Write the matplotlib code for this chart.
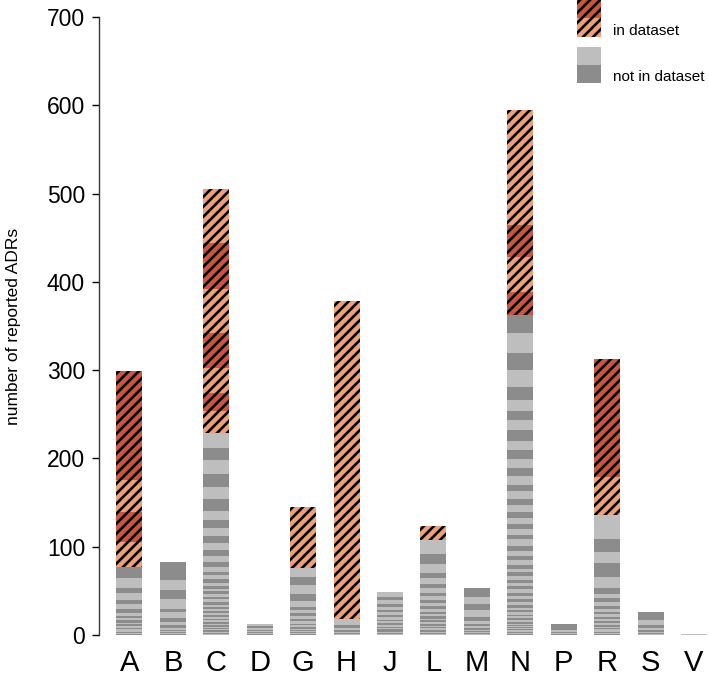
import numpy as np
import matplotlib
matplotlib.use("Agg")
import matplotlib.pyplot as plt
from matplotlib.patches import Rectangle

# dpi 90 gives hatch spacing close to the reference; sizes scaled to match
DPI = 90
S = 100 / DPI

plt.rcParams["font.family"] = ["Liberation Sans", "DejaVu Sans"]
plt.rcParams["hatch.linewidth"] = 1.9 * S

# =========================
# DATA (segments listed bottom -> top)
# =========================
categories = ["A", "B", "C", "D", "G", "H", "J", "L", "M", "N", "P", "R", "S", "V"]

not_in_dataset = {
    "A": [1, 1, 1, 1, 1, 1.5, 1.5, 2, 2, 2, 2.5, 2.5, 3, 3, 4.5, 5.5, 5, 7.5, 5.5, 12, 12.5],
    "B": [1, 1, 1, 1.5, 1.5, 2, 3, 4, 4, 6.7, 4.3, 10.5, 10.5, 11.4, 20.8],
    "C": [1, 1, 1, 1, 1, 1, 1, 1, 1.5, 1.5, 1.5, 2, 2, 2, 2, 2, 2, 2.5, 2.5, 2.5, 2.5,
          3, 3, 3, 3, 3, 3, 3, 3.8, 3.6, 5, 3.9, 5.6, 5.7, 6.5, 6.8, 8.3, 7.6, 8.6,
          8.8, 11.2, 13, 14.3, 14.4, 15.3, 14, 17],
    "D": [1, 1, 1, 1.5, 1.5, 2, 2, 3],
    "G": [1, 1, 1, 1, 1.5, 1.5, 2, 2, 2, 2.5, 3, 3, 3, 3.5, 4, 7, 8, 9.7, 9.3, 9.7],
    "H": [1, 1, 1.5, 2, 2.5, 3, 6.8],
    "J": [1, 1, 1, 1, 1, 1.5, 1.5, 1.5, 2, 2, 2, 2, 2.5, 2.5, 3, 3, 3.5, 3.5, 4, 4, 5],
    "L": [1, 1, 1, 1, 1, 1, 1.5, 1.5, 1.5, 2, 2, 2, 2, 2.5, 2.5, 3, 3, 3, 3.5, 4, 4, 4,
          5, 4.9, 6.4, 6.4, 9.9, 11.4, 15.8],
    "M": [1, 1, 1, 1.5, 1.5, 2, 2, 2.5, 3, 4.5, 8.4, 6.6, 7.8, 10.9],
    "N": [1, 1, 1, 1, 1, 1, 1, 1, 1, 1, 1.5, 1.5, 2, 2, 2, 2, 2, 2.5, 2.5, 3, 3, 3,
          3.5, 3.5, 4, 4, 3.6, 3.6, 3.5, 4.5, 4, 3.7, 4.9, 5.4, 4.5, 6, 5.5, 7, 5.6,
          6.4, 5.8, 6.2, 7, 7.5, 7.5, 8.8, 7.2, 9.5, 9.5, 10.5, 9.5, 11, 11.7, 11.3,
          11, 12.5, 14.5, 18.8, 19.2, 22.4, 20.6],
    "P": [1, 1, 1.5, 2, 6.8],
    "R": [1, 1, 1, 1, 1, 1.5, 1.5, 1.5, 2, 2, 2, 2.5, 2.5, 3, 3, 3, 3.5, 4, 4.5,
          5.4, 6, 13, 15.4, 13, 15, 26.3],
    "S": [1, 1, 1.5, 2, 2, 4, 5.6, 9.5],
    "V": [1.5],
}

in_dataset = {
    "A": [28, 34, 36, 123],
    "C": [24.5, 20.5, 28.7, 39.8, 49.1, 53, 60.4],
    "G": [69],
    "H": [361],
    "L": [16],
    "N": [26.7, 39.3, 36, 131],
    "R": [43.7, 133.3],
}

yticks = [0, 100, 200, 300, 400, 500, 600, 700]

# shade order (style only)
gray_top_dark = {"A": True, "B": True, "M": True, "N": True, "P": True, "S": True}
red_bottom_dark = {"N": True}

LIGHT_GRAY = "#bebebe"
DARK_GRAY = "#8c8c8c"
SALMON = "#ee9f78"
DARK_RED = "#cb5540"
BAR_W = 0.6

# =========================
# PLOT
# =========================
fig = plt.figure(figsize=(709 / DPI, 680 / DPI), dpi=DPI)
ax = fig.add_axes([99 / 709, 45 / 680, 610 / 709, 618 / 680])

x = np.arange(len(categories))

for i, cat in enumerate(categories):
    gray = np.array(not_in_dataset.get(cat, []), dtype=float)
    n = len(gray)
    bottoms = np.concatenate([[0], np.cumsum(gray)[:-1]]) if n else []
    top_dark = gray_top_dark.get(cat, False)
    for k in range(n):
        from_top = n - 1 - k
        dark = (from_top % 2 == 0) == top_dark
        ax.bar(x[i], gray[k], bottom=bottoms[k], width=BAR_W,
               color=DARK_GRAY if dark else LIGHT_GRAY, linewidth=0)

    base = gray.sum() if n else 0.0
    red = np.array(in_dataset.get(cat, []), dtype=float)
    if len(red):
        rb = base + np.concatenate([[0], np.cumsum(red)[:-1]])
        first_dark = red_bottom_dark.get(cat, False)
        for k in range(len(red)):
            dark = (k % 2 == 0) == first_dark
            ax.bar(x[i], red[k], bottom=rb[k], width=BAR_W,
                   color=DARK_RED if dark else SALMON, linewidth=0)
        # one hatch overlay across the whole "in dataset" stack
        ax.bar(x[i], red.sum(), bottom=base, width=BAR_W, facecolor="none",
               edgecolor="black", hatch="///", linewidth=0)

ax.set_xlim(-0.70, len(categories) - 1 + 0.345)
ax.set_ylim(0, 700)
ax.set_yticks(yticks)
ax.tick_params(axis="y", labelsize=16.5 * S, length=5 * S, width=1 * S,
               direction="out", pad=5 * S)
ax.set_xticks(x)
ax.set_xticklabels(categories, fontsize=21 * S)
ax.tick_params(axis="x", length=0, pad=10 * S)

for side in ["top", "right", "bottom"]:
    ax.spines[side].set_visible(False)
ax.spines["left"].set_bounds(0, 700)
ax.spines["left"].set_color("#333333")
ax.spines["left"].set_linewidth(1 * S)

ax.set_ylabel("number of reported ADRs", fontsize=12.5 * S)
ax.yaxis.set_label_coords(-0.128, 0.5)

# =========================
# LEGEND (drawn manually, two-tone swatches)
# =========================
def fig_rect(x0, y0_top, w, h, **kw):
    # pixel coords from top-left
    return Rectangle((x0 / 709, 1 - (y0_top + h) / 680), w / 709, h / 680,
                     transform=fig.transFigure, **kw)

fig.add_artist(fig_rect(577, 0, 24, 18.5, facecolor=DARK_RED, linewidth=0))
fig.add_artist(fig_rect(577, 18.5, 24, 18.5, facecolor=SALMON, linewidth=0))
fig.add_artist(fig_rect(577, 0, 24, 37, facecolor="none", edgecolor="black",
                        hatch="///", linewidth=0))
fig.add_artist(fig_rect(577, 47, 24, 18, facecolor=LIGHT_GRAY, linewidth=0))
fig.add_artist(fig_rect(577, 65, 24, 18, facecolor=DARK_GRAY, linewidth=0))
fig.text(613 / 709, 1 - 31 / 680, "in dataset", fontsize=11 * S, va="center", ha="left")
fig.text(613 / 709, 1 - 77 / 680, "not in dataset", fontsize=11 * S, va="center", ha="left")

fig.savefig("out.png", dpi=DPI)
plt.close(fig)
